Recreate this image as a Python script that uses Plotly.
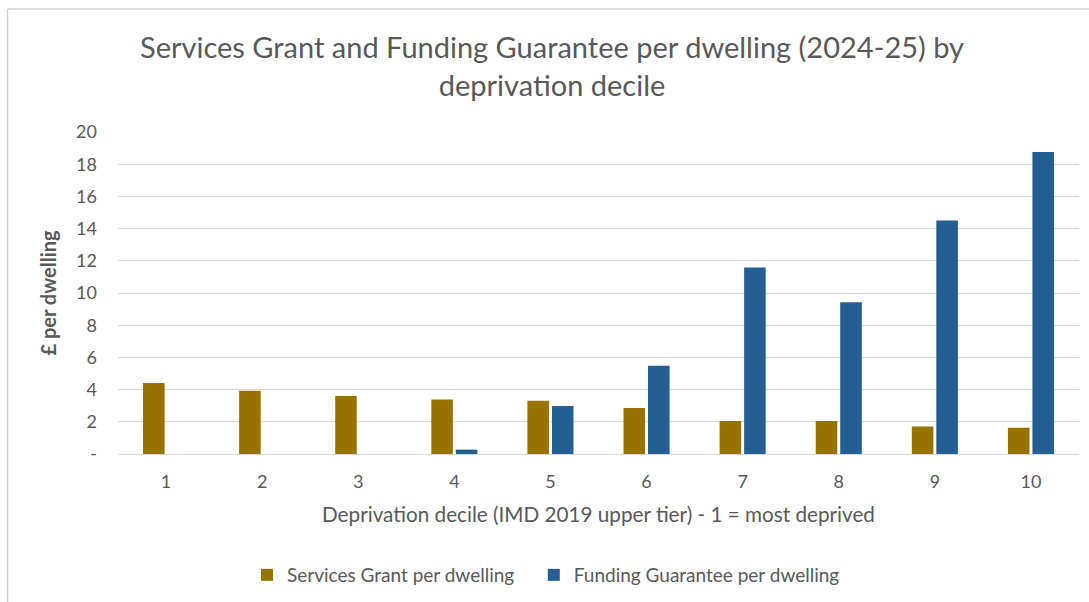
import plotly.graph_objects as go

# Deprivation deciles (1 = most deprived)
deciles = ["1", "2", "3", "4", "5", "6", "7", "8", "9", "10"]

# £ per dwelling, 2024-25
services_grant = [4.41, 3.93, 3.60, 3.39, 3.31, 2.86, 2.05, 2.05, 1.71, 1.63]
funding_guarantee = [0, 0, 0, 0.27, 2.98, 5.48, 11.59, 9.42, 14.51, 18.76]

y_tick_vals = [0, 2, 4, 6, 8, 10, 12, 14, 16, 18, 20]
y_tick_text = ["-", "2", "4", "6", "8", "10", "12", "14", "16", "18", "20"]

GOLD = "#997300"
BLUE = "#255E91"
TEXT = "#595959"
GRID = "#D9D9D9"
FONT = "Lato, Carlito, Calibri, sans-serif"

fig = go.Figure()
fig.add_trace(go.Bar(
    x=deciles, y=services_grant,
    # trailing spaces widen the gap before the next legend entry
    name="Services Grant per dwelling\u00a0\u00a0\u00a0",
    marker=dict(color=GOLD, line=dict(width=0)),
))
fig.add_trace(go.Bar(
    x=deciles, y=funding_guarantee, name="Funding Guarantee per dwelling",
    marker=dict(color=BLUE, line=dict(width=0)),
))

W, H = 1089, 602
L, R, T, B = 118, 10, 132, 148
PW, PH = W - L - R, H - T - B

fig.update_layout(
    width=W, height=H,
    margin=dict(l=L, r=R, t=T, b=B),
    paper_bgcolor="white", plot_bgcolor="white",
    font=dict(family=FONT, color=TEXT, size=18),
    barmode="group", bargap=0.49, bargroupgap=0.12,
    xaxis=dict(
        type="category", showgrid=False, zeroline=False,
        showline=True, linecolor=GRID, linewidth=1,
        ticks="", tickfont=dict(size=18, color=TEXT),
        ticklabelstandoff=11,
        title=dict(text="Deprivation decile (IMD 2019 upper tier) - 1 = most deprived",
                   font=dict(size=20.7, color=TEXT), standoff=16),
    ),
    yaxis=dict(
        range=[0, 20], tickvals=y_tick_vals, ticktext=y_tick_text,
        showgrid=True, gridcolor=GRID, gridwidth=1, zeroline=False,
        showline=False, ticks="", tickfont=dict(size=18, color=TEXT),
        ticklabelstandoff=20,
        title=dict(text="<b>£ per dwelling</b>", font=dict(size=20, color=TEXT), standoff=14),
    ),
    legend=dict(
        orientation="h", x=247 / W, xref="container", xanchor="left",
        y=1 - 575 / H, yref="container", yanchor="middle",
        font=dict(size=19, color=TEXT), traceorder="normal",
    ),
)

# Chart title, two centred lines
fig.add_annotation(
    text="Services Grant and Funding Guarantee per dwelling (2024-25) by<br>deprivation decile",
    xref="paper", yref="paper",
    x=(552 - L) / PW, xanchor="center",
    y=(H - B - 27) / PH, yanchor="top",
    showarrow=False, align="center",
    font=dict(size=29, color=TEXT, family=FONT),
)

# Chart-area frame (top and left edges)
fx0 = (7.5 - L) / PW
fy0 = (H - B - 9) / PH
fig.add_shape(type="line", xref="paper", yref="paper", x0=fx0, x1=(W - L) / PW, y0=fy0, y1=fy0,
              line=dict(color="#D0D0D0", width=1.5))
fig.add_shape(type="line", xref="paper", yref="paper", x0=fx0, x1=fx0, y0=fy0, y1=-B / PH,
              line=dict(color="#D0D0D0", width=1.5))

fig.write_html("out.html")
